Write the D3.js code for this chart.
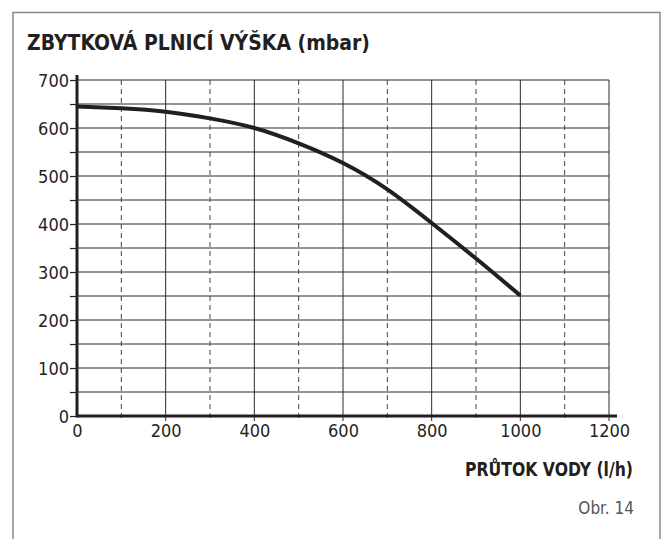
<!DOCTYPE html>
<html>
<head>
<meta charset="utf-8">
<style>
	body { margin: 0; background: #fff; }
	.grid line { stroke: #2b2b2b; stroke-width: 1px; }
	.grid .dash { stroke: #444; stroke-dasharray: 5,4; }
	.tick text { font-family: "DejaVu Sans Condensed", "Liberation Sans Narrow", sans-serif; fill: #231f20; }
</style>
</head>
<body>
<script src="https://d3js.org/d3.v7.min.js"></script>
<script>

	// flow (l/h) vs residual head (mbar)
	var flow = [0, 100, 200, 300, 400, 500, 600, 700, 800, 900, 1000];
	var head = [645, 641, 634, 620, 600, 568, 527, 472, 402, 328, 251];

	var xTicks = [0, 200, 400, 600, 800, 1000, 1200];
	var yTicks = [0, 100, 200, 300, 400, 500, 600, 700];

	var W = 665, H = 539;
	var plotL = 77, plotR = 609, plotT = 80, plotB = 416;

	var svg = d3.select("body").append("svg")
		.attr("width", W)
		.attr("height", H);

	// outer frame (open at the bottom)
	svg.append("path")
		.attr("d", "M13," + H + "V12.5H660V" + H)
		.attr("fill", "none")
		.attr("stroke", "#8a8a8a")
		.attr("stroke-width", 1.5);

	var x = d3.scaleLinear().domain([0, 1200]).range([plotL, plotR]);
	var y = d3.scaleLinear().domain([0, 700]).range([plotB, plotT]);

	var grid = svg.append("g").attr("class", "grid");

	// horizontal lines every 50
	grid.selectAll(".h")
		.data(d3.range(50, 701, 50))
		.enter().append("line")
		.attr("class", "h")
		.attr("x1", x(0)).attr("x2", x(1200))
		.attr("y1", function(d) { return y(d); })
		.attr("y2", function(d) { return y(d); });

	// vertical lines every 100, dashed at odd hundreds
	grid.selectAll(".v")
		.data(d3.range(100, 1201, 100))
		.enter().append("line")
		.attr("class", function(d) { return d % 200 ? "v dash" : "v"; })
		.attr("x1", function(d) { return x(d); })
		.attr("x2", function(d) { return x(d); })
		.attr("y1", y(700))
		.attr("y2", y(0) + 5);

	// axes
	var xAxis = svg.append("g")
		.attr("transform", "translate(0," + plotB + ")")
		.call(d3.axisBottom(x).tickValues(xTicks).tickSize(0).tickPadding(8).tickFormat(d3.format("d")));
	xAxis.select(".domain").remove();
	xAxis.selectAll("text").attr("font-size", 18);

	var yAxis = svg.append("g")
		.attr("transform", "translate(" + plotL + ",0)")
		.call(d3.axisLeft(y).tickValues(d3.range(0, 701, 50)).tickSize(7).tickPadding(1)
			.tickFormat(function(d) { return yTicks.indexOf(d) < 0 ? "" : d; }));
	yAxis.select(".domain").remove();
	yAxis.selectAll("line").attr("stroke", "#231f20").attr("stroke-width", 1.2);
	yAxis.selectAll("text").attr("font-size", 18).attr("dy", "0.36em");

	svg.append("line")
		.attr("x1", x(0)).attr("x2", x(1200) + 8)
		.attr("y1", y(0)).attr("y2", y(0))
		.attr("stroke", "#231f20").attr("stroke-width", 3);

	svg.append("line")
		.attr("x1", x(0)).attr("x2", x(0))
		.attr("y1", y(700) - 5).attr("y2", y(0) + 1.5)
		.attr("stroke", "#231f20").attr("stroke-width", 3);

	// curve
	var pts = flow.map(function(f, i) { return [f, head[i]]; });
	var line = d3.line()
		.x(function(d) { return x(d[0]); })
		.y(function(d) { return y(d[1]); })
		.curve(d3.curveNatural);

	svg.append("path")
		.datum(pts)
		.attr("fill", "none")
		.attr("stroke", "#231f20")
		.attr("stroke-width", 4)
		.attr("d", line);

	// texts
	svg.append("text")
		.attr("x", 27).attr("y", 50)
		.attr("font-family", "DejaVu Sans Condensed, sans-serif")
		.attr("font-weight", "bold")
		.attr("font-size", 21)
		.attr("fill", "#231f20")
		.attr("textLength", 343)
		.attr("lengthAdjust", "spacingAndGlyphs")
		.text("ZBYTKOVÁ PLNICÍ VÝŠKA (mbar)");

	svg.append("text")
		.attr("x", 633).attr("y", 476)
		.attr("text-anchor", "end")
		.attr("font-family", "DejaVu Sans Condensed, sans-serif")
		.attr("font-weight", "bold")
		.attr("font-size", 19)
		.attr("fill", "#231f20")
		.attr("textLength", 168)
		.attr("lengthAdjust", "spacingAndGlyphs")
		.text("PRŮTOK VODY (l/h)");

	svg.append("text")
		.attr("x", 634).attr("y", 514)
		.attr("text-anchor", "end")
		.attr("font-family", "DejaVu Sans Condensed, sans-serif")
		.attr("font-size", 17)
		.attr("fill", "#555")
		.text("Obr. 14");

</script>
</body>
</html>
